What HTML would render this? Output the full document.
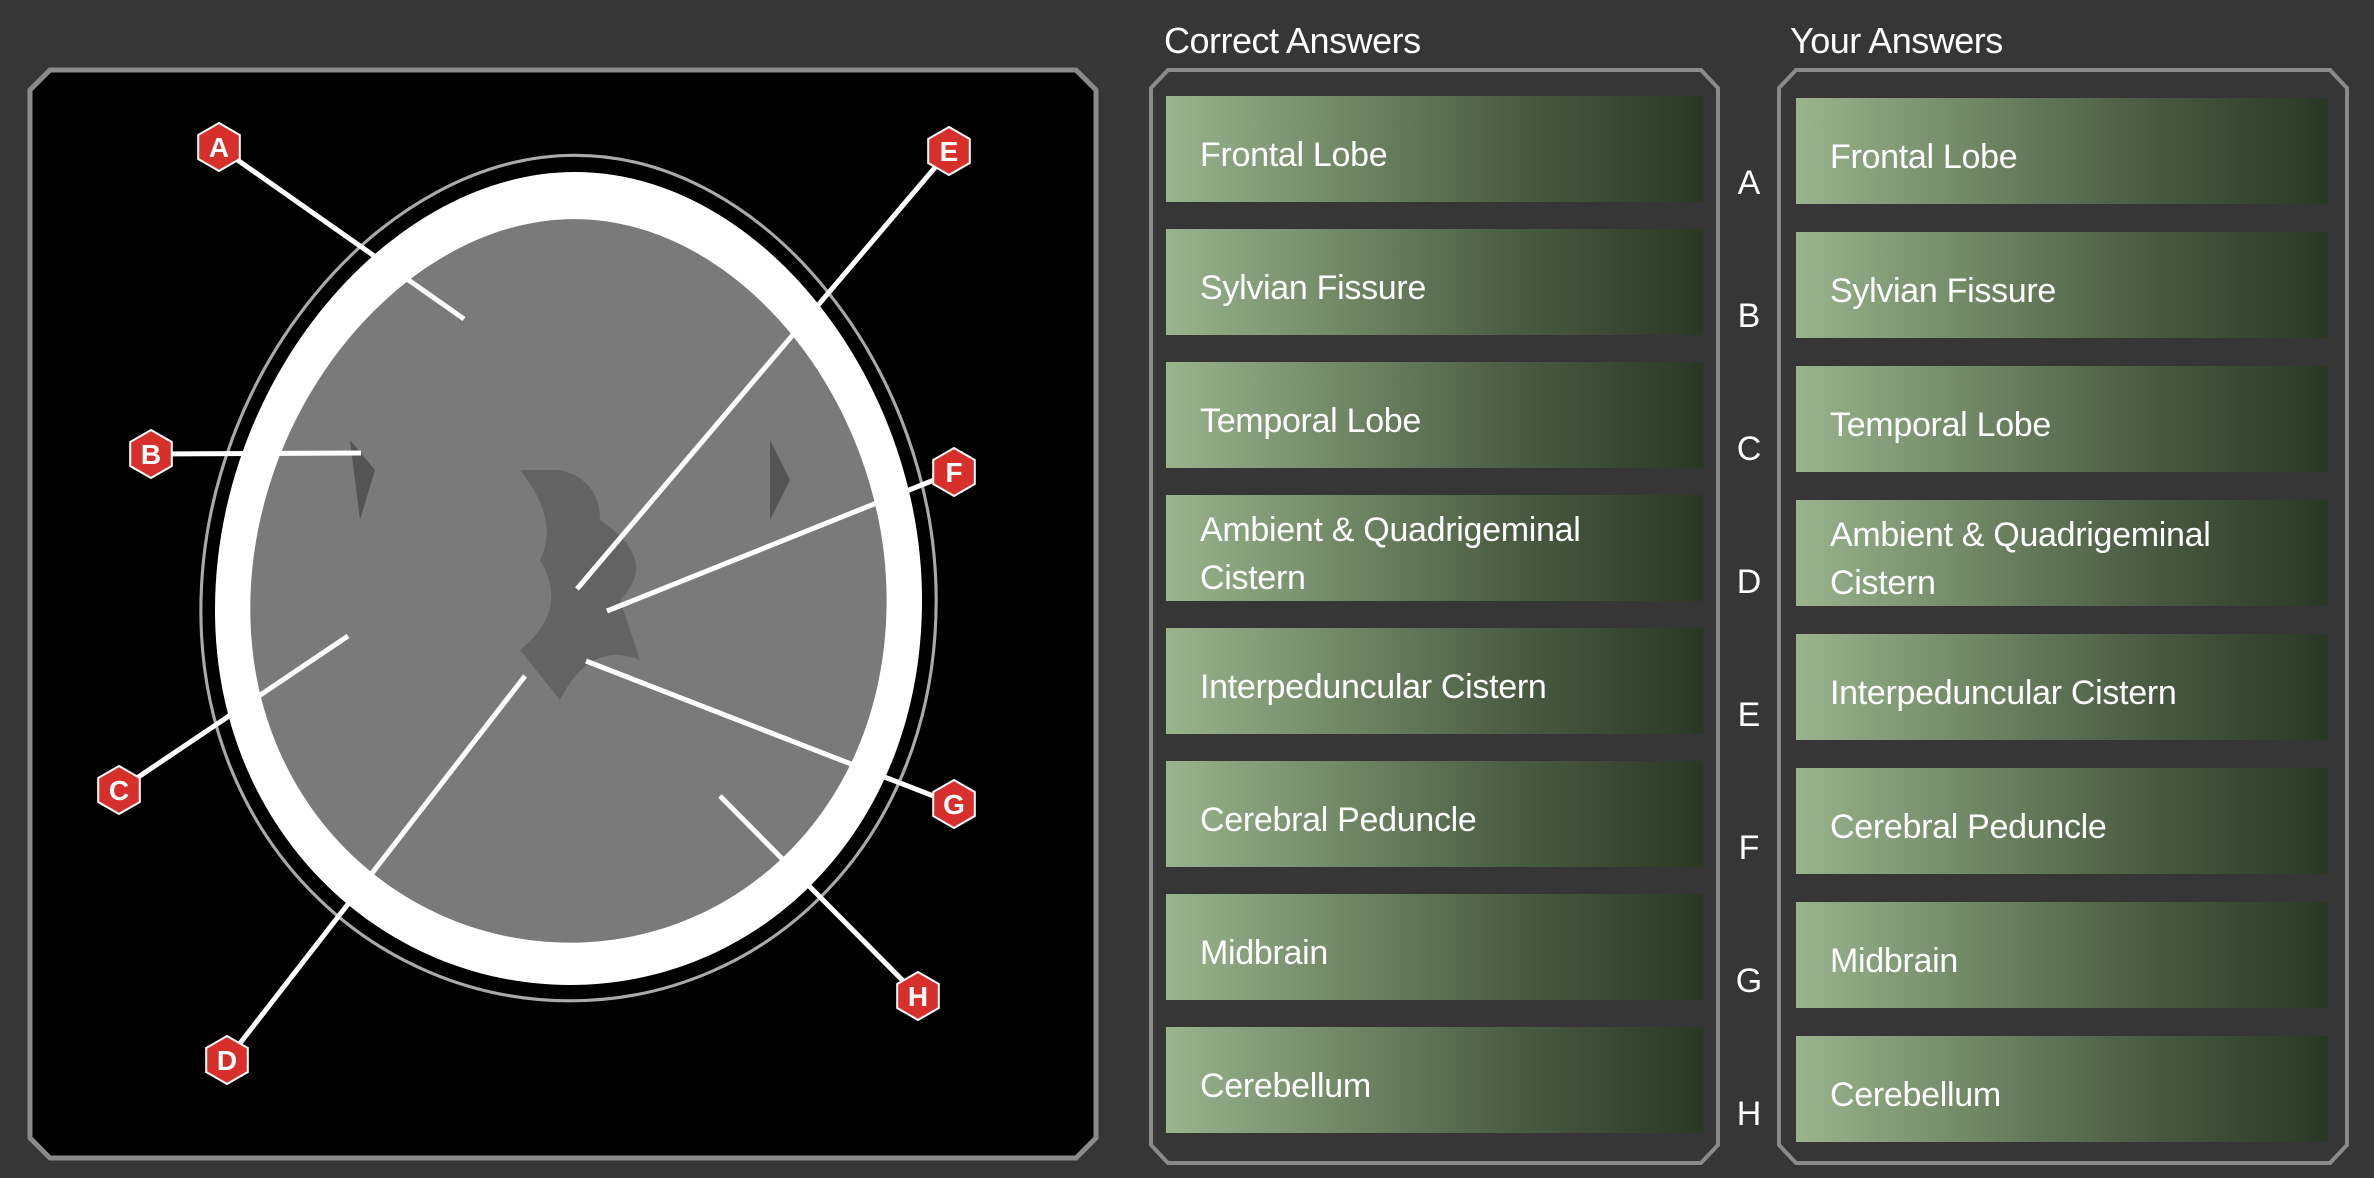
<!DOCTYPE html>
<html><head><meta charset="utf-8"><style>
html,body{margin:0;padding:0;background:#363636;}
#root{position:relative;width:2374px;height:1178px;overflow:hidden;background:#363636;font-family:"Liberation Sans",sans-serif;color:#fff;}
.title{position:absolute;top:20px;font-size:36px;letter-spacing:-0.5px;}
.box{position:absolute;height:106px;background:linear-gradient(90deg,#9ab48e 0%,#6e8564 35%,#4a5c43 65%,#2a3724 100%);display:flex;align-items:center;}
.box span{padding-left:34px;font-size:34px;line-height:48px;letter-spacing:-0.3px;position:relative;top:6px;}
.letter{position:absolute;left:1732px;width:34px;text-align:center;font-size:34px;}
svg{position:absolute;left:0;top:0;}
</style></head><body>
<div id="root">
<svg width="2374" height="1178">
  <path d="M50,70 L1076,70 L1096,90 L1096,1138 L1076,1158 L50,1158 L30,1138 L30,90 Z" fill="#000" stroke="#8a8a8a" stroke-width="5"/>
  <path d="M1168,70 L1701,70 L1718,88 L1718,1145 L1701,1163 L1168,1163 L1151,1145 L1151,88 Z" fill="none" stroke="#8a8a8a" stroke-width="4"/>
  <path d="M1796,70 L2330,70 L2347,88 L2347,1145 L2330,1163 L1796,1163 L1779,1145 L1779,88 Z" fill="none" stroke="#8a8a8a" stroke-width="4"/>
  <defs>
    <path id="egg" d="M575,172 C760,172 922,380 922,600 C922,830 760,985 570,985 C380,985 215,830 215,610 C215,380 390,172 575,172 Z"/>
  </defs>
  <g>
    <use href="#egg" fill="none" stroke="#aaa" stroke-width="3" transform="translate(568,590) scale(1.04) translate(-568,-590)"/>
    <use href="#egg" fill="#fff"/>
    <use href="#egg" fill="#7a7a7a" transform="translate(568,600) scale(0.9,0.89) translate(-568,-600)"/>
    <path d="M520,470 Q560,520 540,560 Q570,610 520,650 L560,700 Q590,640 640,660 L620,600 Q660,560 600,520 Q600,480 560,470 Z" fill="#5a5a5a" opacity="0.7"/>
    <path d="M350,440 L375,470 L360,520 Z" fill="#444" opacity="0.7"/>
    <path d="M770,440 L790,480 L770,520 Z" fill="#444" opacity="0.7"/>
  </g>
  <g stroke="#fff" stroke-width="5">
    <line x1="219" y1="147" x2="464" y2="319"/>
    <line x1="151" y1="454" x2="361" y2="453"/>
    <line x1="119" y1="790" x2="348" y2="636"/>
    <line x1="227" y1="1060" x2="525" y2="676"/>
    <line x1="949" y1="151" x2="577" y2="589"/>
    <line x1="954" y1="472" x2="607" y2="611"/>
    <line x1="954" y1="804" x2="586" y2="661"/>
    <line x1="918" y1="996" x2="720" y2="796"/>
  </g>
  <g id="markers"></g>
</svg>
<div class="title" style="left:1164px">Correct Answers</div>
<div class="title" style="left:1790px">Your Answers</div>
<div id="boxes"></div>
</div>
<script>
const markerLabels=['A','B','C','D','E','F','G','H'];
const markerX=[219,151,119,227,949,954,954,918];
const markerY=[147,454,790,1060,151,472,804,996];
const answers=['Frontal Lobe','Sylvian Fissure','Temporal Lobe','Ambient & Quadrigeminal Cistern','Interpeduncular Cistern','Cerebral Peduncle','Midbrain','Cerebellum'];
const ns='http://www.w3.org/2000/svg';
const g=document.getElementById('markers');
markerLabels.forEach((l,i)=>{
  const grp=document.createElementNS(ns,'g');
  
  
  const r=24,cx=markerX[i],cy=markerY[i];let pts=[];
  for(let k=0;k<6;k++){const a=Math.PI/3*k-Math.PI/2;pts.push((cx+r*Math.cos(a)).toFixed(1)+','+(cy+r*Math.sin(a)).toFixed(1));}
  const p=document.createElementNS(ns,'polygon');
  p.setAttribute('points',pts.join(' '));p.setAttribute('fill','#d7302c');p.setAttribute('stroke','#fff');p.setAttribute('stroke-width','2');
  grp.appendChild(p);
  const t=document.createElementNS(ns,'text');
  t.setAttribute('x',cx);t.setAttribute('y',cy+10);t.setAttribute('text-anchor','middle');
  t.setAttribute('font-size','28');t.setAttribute('font-weight','bold');t.setAttribute('fill','#fff');t.setAttribute('font-family','Liberation Sans, sans-serif');
  t.textContent=l;grp.appendChild(t);g.appendChild(grp);
});
const bx=document.getElementById('boxes');
answers.forEach((a,i)=>{
  const c=document.createElement('div');c.className='box';
  
  
  c.style.left='1166px';c.style.width='537px';c.style.top=(96+i*133)+'px';
  c.innerHTML='<span>'+a.replace('&','&amp;').replace('Quadrigeminal ','Quadrigeminal<br>')+'</span>';
  bx.appendChild(c);
  const y=document.createElement('div');y.className='box';
  
  
  y.style.left='1796px';y.style.width='532px';y.style.top=(98+i*134)+'px';
  y.innerHTML='<span>'+a.replace('&','&amp;').replace('Quadrigeminal ','Quadrigeminal<br>')+'</span>';
  bx.appendChild(y);
  const L=document.createElement('div');L.className='letter';
  
  
  L.style.top=(164+i*133)+'px';L.textContent=markerLabels[i];
  bx.appendChild(L);
});
</script>
</body></html>
